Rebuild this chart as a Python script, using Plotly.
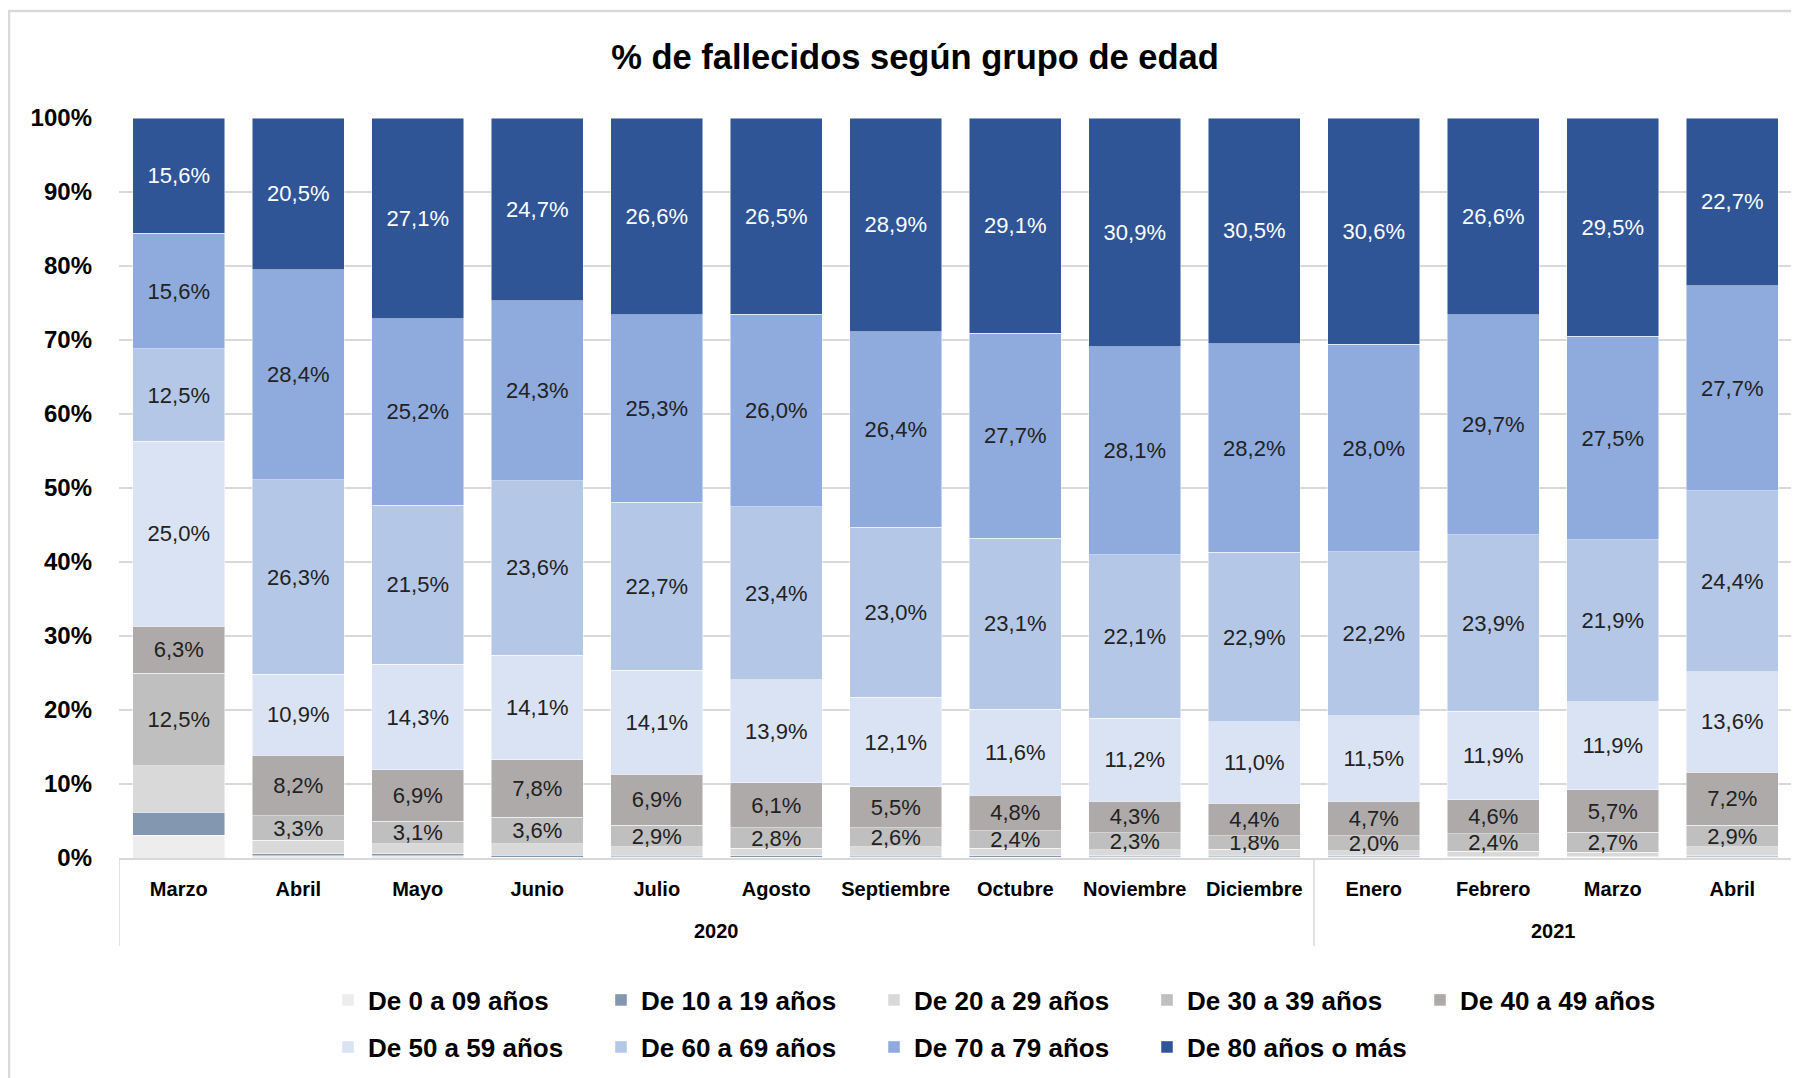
import plotly.graph_objects as go

# ---------------- data ----------------
years = ["2020"] * 10 + ["2021"] * 4
months = ["Marzo", "Abril", "Mayo", "Junio", "Julio", "Agosto", "Septiembre",
          "Octubre", "Noviembre", "Diciembre", "Enero", "Febrero", "Marzo", "Abril"]
year_labels = ["2020", "2021"]

groups = ["De 0 a 09 años", "De 10 a 19 años", "De 20 a 29 años", "De 30 a 39 años",
          "De 40 a 49 años", "De 50 a 59 años", "De 60 a 69 años", "De 70 a 79 años",
          "De 80 años o más"]

g_0_9 = [3.1, 0.3, 0.3, 0.1, 0.2, 0.1, 0.2, 0.1, 0.2, 0.2, 0.2, 0.1, 0.1, 0.2]
g_10_19 = [3.1, 0.3, 0.3, 0.3, 0.2, 0.2, 0.2, 0.2, 0.1, 0.2, 0.1, 0.1, 0.1, 0.1]
g_20_29 = [6.3, 1.8, 1.3, 1.5, 1.1, 1.0, 1.1, 1.0, 0.8, 0.8, 0.7, 0.7, 0.6, 1.2]
g_30_39 = [12.5, 3.3, 3.1, 3.6, 2.9, 2.8, 2.6, 2.4, 2.3, 1.8, 2.0, 2.4, 2.7, 2.9]
g_40_49 = [6.3, 8.2, 6.9, 7.8, 6.9, 6.1, 5.5, 4.8, 4.3, 4.4, 4.7, 4.6, 5.7, 7.2]
g_50_59 = [25.0, 10.9, 14.3, 14.1, 14.1, 13.9, 12.1, 11.6, 11.2, 11.0, 11.5, 11.9, 11.9, 13.6]
g_60_69 = [12.5, 26.3, 21.5, 23.6, 22.7, 23.4, 23.0, 23.1, 22.1, 22.9, 22.2, 23.9, 21.9, 24.4]
g_70_79 = [15.6, 28.4, 25.2, 24.3, 25.3, 26.0, 26.4, 27.7, 28.1, 28.2, 28.0, 29.7, 27.5, 27.7]
g_80 = [15.6, 20.5, 27.1, 24.7, 26.6, 26.5, 28.9, 29.1, 30.9, 30.5, 30.6, 26.6, 29.5, 22.7]

series = [g_0_9, g_10_19, g_20_29, g_30_39, g_40_49, g_50_59, g_60_69, g_70_79, g_80]
show_labels = [False, False, False, True, True, True, True, True, True]
colors = ["#ededed", "#8497b0", "#d9d9d9", "#bfbfbf", "#aeaaaa",
          "#dae3f3", "#b4c7e7", "#8faadc", "#2f5597"]
text_colors = ["#222222"] * 8 + ["#ffffff"]

y_ticks = list(range(0, 101, 10))
y_ticktext = [f"{v}%" for v in y_ticks]

# unique category keys (month + year), displayed with month names only
x_keys = [f"{m} {y}" for m, y in zip(months, years)]

# ---------------- layout constants (figure px; page body adds 8px offset) ----------------
W, H = 1799, 1078
ML, MR, MT, MB = 111, 15, 110, 228
FONT = "Liberation Sans, Arial, sans-serif"
pw = W - ML - MR
ph = H - MT - MB

fig = go.Figure()
for i, (name, vals) in enumerate(zip(groups, series)):
    txt = [(f"{v:.1f}".replace(".", ",") + "%") if show_labels[i] else "" for v in vals]
    fig.add_trace(go.Bar(
        x=x_keys, y=vals, name=name,
        marker=dict(color=colors[i], line=dict(color="rgba(255,255,255,0.6)", width=0.8)),
        text=txt, textposition="inside", insidetextanchor="middle",
        constraintext="none", textangle=0,
        textfont=dict(family=FONT, size=22, color=text_colors[i]),
        hoverinfo="y+name",
        legend="legend" if i < 5 else "legend2",
    ))

# year group labels and dividers, derived from category indices
shapes = []
annotations = []
div_len = 88 / ph
year_lab_y = -73 / ph
bounds = [-0.5]
for yl in year_labels:
    idx = [k for k, y in enumerate(years) if y == yl]
    first, last = idx[0], idx[-1]
    bounds.append(last + 0.5)
    annotations.append(dict(x=(first + last) / 2, xref="x", y=year_lab_y, yref="paper",
                            text=f"<b>{yl}</b>", showarrow=False, yanchor="middle",
                            font=dict(family=FONT, size=20, color="#000000")))
for b in bounds:
    shapes.append(dict(type="line", xref="x", yref="paper", x0=b, x1=b, y0=0, y1=-div_len,
                       line=dict(color="#d9d9d9", width=1.5)))

def px_x(p):
    return (p - ML) / pw

def px_y(p):
    return (H - MB - p) / ph

shapes.append(dict(type="rect", xref="paper", yref="paper",
                   x0=px_x(1), x1=px_x(W + 30), y0=px_y(H + 30), y1=px_y(3),
                   line=dict(color="#d9d9d9", width=2.5), fillcolor="rgba(0,0,0,0)",
                   layer="below"))

fig.update_layout(
    width=W, height=H,
    barmode="stack", bargap=0.23,
    paper_bgcolor="white", plot_bgcolor="white",
    margin=dict(l=ML, r=MR, t=MT, b=MB, autoexpand=False),
    font=dict(family=FONT, color="#000000"),
    title=dict(text="<b>% de fallecidos según grupo de edad</b>",
               x=(915 - 8) / W, xanchor="center", xref="container",
               y=1 - 49 / H, yanchor="middle", yref="container",
               font=dict(family=FONT, size=34.5, color="#000000")),
    yaxis=dict(range=[0, 100], tickmode="array", tickvals=y_ticks, ticktext=y_ticktext,
               showgrid=True, gridcolor="#d9d9d9", gridwidth=1.5,
               zeroline=False, ticks="", ticklabelstandoff=26,
               tickfont=dict(family=FONT, size=24, color="#000000", weight="bold")),
    xaxis=dict(type="category", tickmode="array", tickvals=x_keys, ticktext=months,
               range=[-0.5, len(x_keys) - 0.5],
               showline=True, linecolor="#d9d9d9", linewidth=1.5,
               ticks="", showgrid=False, ticklabelstandoff=12,
               tickfont=dict(family=FONT, size=20, color="#000000", weight="bold")),
    legend=dict(orientation="h", xref="container", yref="container",
                x=320 / W, xanchor="left", y=1 - 992 / H, yanchor="middle",
                entrywidth=228, entrywidthmode="pixels", traceorder="normal",
                font=dict(family=FONT, size=26, color="#000000", weight="bold"),
                bgcolor="rgba(0,0,0,0)"),
    legend2=dict(orientation="h", xref="container", yref="container",
                 x=320 / W, xanchor="left", y=1 - 1039 / H, yanchor="middle",
                 entrywidth=228, entrywidthmode="pixels", traceorder="normal",
                 font=dict(family=FONT, size=26, color="#000000", weight="bold"),
                 bgcolor="rgba(0,0,0,0)"),
    shapes=shapes,
    annotations=annotations,
)

fig.write_html("out.html")
